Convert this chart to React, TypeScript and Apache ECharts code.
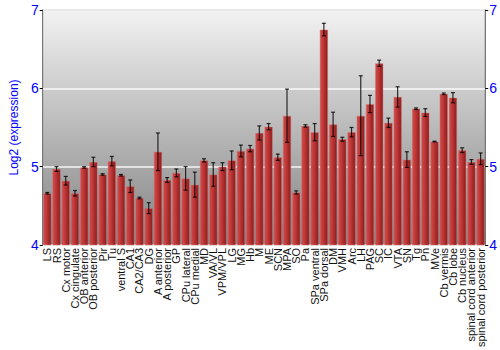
import React, { useEffect, useRef } from "react";
import * as echarts from "echarts";

const categories = [
  "LS", "RS", "Cx motor", "Cx cingulate", "OB anterior", "OB posterior", "Pir", "Tu",
  "ventral S", "CA1", "CA2/CA3", "DG", "A anterior", "A posterior", "GP", "CPu lateral",
  "CPu medial", "MD", "VA/VL", "VPM/VPL", "LG", "MG", "Hb", "M", "ME", "SCN", "MPA", "SO",
  "Pa", "SPa ventral", "SPa dorsal", "DM", "VMH", "Arc", "LH", "PAG", "SC", "IC", "VTA",
  "SN", "Tg", "Pn", "MVe", "Cb vermis", "Cb lobe", "Cb nucleus", "spinal cord anterior",
  "spinal cord posterior",
];

const values = [
  4.66, 4.97, 4.82, 4.66, 4.99, 5.06, 4.90, 5.07,
  4.89, 4.75, 4.60, 4.47, 5.19, 4.83, 4.92, 4.85,
  4.77, 5.08, 4.90, 5.00, 5.08, 5.20, 5.23, 5.43, 5.51, 5.12, 5.65, 4.67,
  5.52, 5.44, 6.75, 5.54, 5.35, 5.44, 5.65, 5.80, 6.32, 5.56, 5.89,
  5.09, 5.74, 5.69, 5.32, 5.93, 5.88, 5.21, 5.06,
  5.10,
];

const errors = [
  0.01, 0.03, 0.055, 0.035, 0.01, 0.06, 0.01, 0.06,
  0.01, 0.08, 0.01, 0.07, 0.24, 0.03, 0.05, 0.15,
  0.16, 0.02, 0.15, 0.05, 0.12, 0.075, 0.04, 0.09, 0.04, 0.04, 0.34, 0.02,
  0.015, 0.11, 0.08, 0.155, 0.025, 0.06, 0.51, 0.11, 0.04, 0.06, 0.13,
  0.1, 0.01, 0.05, 0.005, 0.01, 0.065, 0.03, 0.03,
  0.075,
];

const yTicks = { min: 4, max: 7, interval: 1 };

export default function App() {
  const ref = useRef<HTMLDivElement>(null);
  useEffect(() => {
    if (!ref.current) return;
    const chart = echarts.init(ref.current, null, { renderer: "svg" });
    const font = "Liberation Sans, Arial, sans-serif";
    const yAxisBase = {
      type: "value" as const,
      min: yTicks.min,
      max: yTicks.max,
      interval: yTicks.interval,
      axisLine: { show: true, lineStyle: { color: "#777777", width: 1 } },
      axisTick: { show: true, length: 3, lineStyle: { color: "#000000" } },
      axisLabel: { color: "#0000ff", fontSize: 14, fontFamily: font, margin: 4 },
    };
    chart.setOption({
      animation: false,
      grid: {
        left: 27,
        right: 14,
        top: 10,
        bottom: 99,
        show: true,
        borderColor: "#777777",
        borderWidth: 1,
        backgroundColor: new echarts.graphic.LinearGradient(0, 0, 0, 1, [
          { offset: 0, color: "#f2f2f2" },
          { offset: 1, color: "#828282" },
        ]),
      },
      xAxis: {
        type: "category",
        data: categories,
        axisLine: { show: false },
        axisTick: { show: false },
        axisLabel: {
          interval: 0,
          rotate: 90,
          color: "#111111",
          fontSize: 11,
          fontFamily: font,
          margin: 3,
          lineHeight: 10,
        },
      },
      yAxis: [
        {
          ...yAxisBase,
          position: "left",
          name: "Log2 (expression)",
          nameLocation: "middle",
          nameGap: 15,
          nameTextStyle: { color: "#0000ff", fontSize: 12, fontFamily: font },
          splitLine: { show: true, lineStyle: { color: "#ffffff", width: 1.5, opacity: 0.9 } },
        },
        {
          ...yAxisBase,
          position: "right",
          splitLine: { show: false },
        },
      ],
      series: [
        {
          type: "bar",
          data: values,
          barCategoryGap: "10%",
          itemStyle: {
            color: new echarts.graphic.LinearGradient(0, 0, 1, 0, [
              { offset: 0, color: "#cf4a4a" },
              { offset: 0.35, color: "#c43a3a" },
              { offset: 1, color: "#8a1c1c" },
            ]),
            borderColor: "rgba(220,110,110,0.55)",
            borderWidth: 0.8,
          },
        },
        {
          type: "custom",
          data: categories.map((_, i) => [i, values[i], errors[i]]),
          encode: { x: 0, y: 1 },
          z: 5,
          renderItem: (params: any, api: any) => {
            const x = api.value(0);
            const v = api.value(1);
            const e = api.value(2);
            const top = api.coord([x, v + e]);
            const bot = api.coord([x, v - e]);
            const half = 2;
            const style = { stroke: "rgba(0,0,0,0.8)", lineWidth: 1.2 };
            return {
              type: "group",
              children: [
                { type: "line", shape: { x1: top[0], y1: top[1], x2: bot[0], y2: bot[1] }, style },
                { type: "line", shape: { x1: top[0] - half, y1: top[1], x2: top[0] + half, y2: top[1] }, style },
                { type: "line", shape: { x1: bot[0] - half, y1: bot[1], x2: bot[0] + half, y2: bot[1] }, style },
              ],
            };
          },
        },
      ],
    });
    return () => chart.dispose();
  }, []);
  return (
    <div
      ref={ref}
      style={{ position: "fixed", left: 0, top: 0, width: 500, height: 350, background: "#ffffff" }}
    />
  );
}
